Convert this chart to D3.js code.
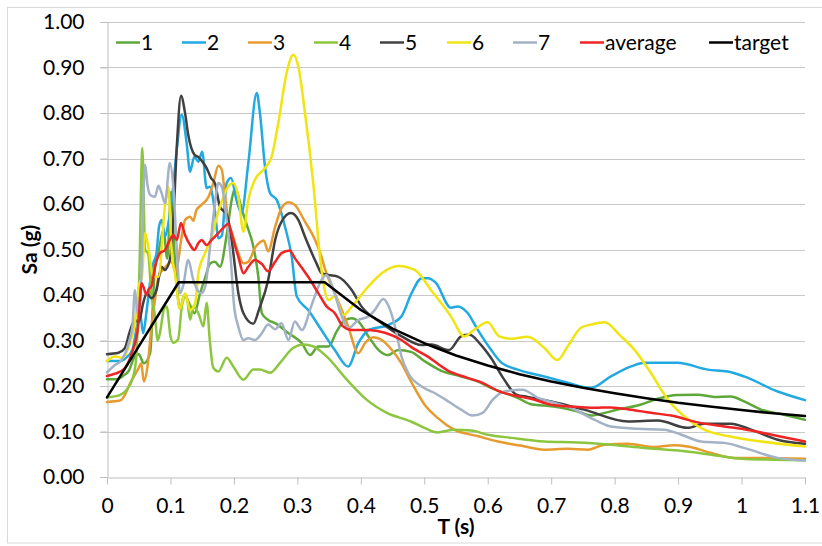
<!DOCTYPE html>
<html>
<head>
<meta charset="utf-8">
<script src="https://cdn.jsdelivr.net/npm/d3@7"></script>
<style>
  html, body { margin: 0; padding: 0; background: #ffffff; }
  svg { display: block; font-family: Lato, "Open Sans", sans-serif; }
</style>
</head>
<body>
<svg id="chart" width="822" height="546"></svg>
<script>
// ---------- data (T in s, Sa in g) ----------
const xTicks = [0, 0.1, 0.2, 0.3, 0.4, 0.5, 0.6, 0.7, 0.8, 0.9, 1.0, 1.1];
const xTickLabels = ["0", "0.1", "0.2", "0.3", "0.4", "0.5", "0.6", "0.7", "0.8", "0.9", "1", "1.1"];
const yTicks = [0, 0.1, 0.2, 0.3, 0.4, 0.5, 0.6, 0.7, 0.8, 0.9, 1.0];
const seriesNames = ["1", "2", "3", "4", "5", "6", "7", "average", "target"];
const seriesColors = ["#5ea83a", "#22a9e1", "#e79b2e", "#8cc63f", "#404040", "#f0e412", "#a3b2c6", "#ee2524", "#000000"];

const s1 = [[0,0.215],[0.015,0.215],[0.025,0.222],[0.035,0.235],[0.042,0.26],[0.05,0.27],[0.058,0.25],[0.068,0.273],[0.075,0.45],[0.082,0.50],[0.089,0.543],[0.095,0.48],[0.101,0.627],[0.106,0.50],[0.11,0.42],[0.115,0.37],[0.122,0.40],[0.13,0.38],[0.138,0.36],[0.146,0.40],[0.155,0.44],[0.163,0.47],[0.17,0.473],[0.178,0.462],[0.189,0.536],[0.1965,0.609],[0.202,0.635],[0.212,0.59],[0.22,0.555],[0.23,0.51],[0.2385,0.44],[0.244,0.36],[0.254,0.345],[0.265,0.338],[0.286,0.316],[0.307,0.294],[0.32,0.268],[0.333,0.287],[0.349,0.287],[0.362,0.32],[0.375,0.345],[0.386,0.349],[0.396,0.342],[0.412,0.309],[0.428,0.279],[0.443,0.268],[0.459,0.279],[0.479,0.275],[0.50,0.255],[0.526,0.234],[0.558,0.221],[0.584,0.21],[0.605,0.196],[0.626,0.185],[0.647,0.174],[0.668,0.16],[0.689,0.157],[0.716,0.152],[0.742,0.144],[0.763,0.135],[0.784,0.141],[0.81,0.15],[0.836,0.157],[0.868,0.172],[0.899,0.18],[0.931,0.181],[0.957,0.176],[0.983,0.177],[1.004,0.166],[1.031,0.148],[1.067,0.137],[1.1,0.126]];

const s2 = [[0,0.255],[0.02,0.255],[0.03,0.262],[0.04,0.28],[0.047,0.33],[0.052,0.36],[0.057,0.316],[0.062,0.36],[0.068,0.43],[0.073,0.47],[0.078,0.492],[0.082,0.55],[0.086,0.565],[0.0915,0.528],[0.097,0.56],[0.103,0.62],[0.11,0.72],[0.1177,0.796],[0.1255,0.734],[0.1308,0.671],[0.1376,0.704],[0.144,0.693],[0.15,0.715],[0.157,0.635],[0.162,0.638],[0.17,0.585],[0.1755,0.525],[0.181,0.53],[0.1886,0.646],[0.1955,0.657],[0.204,0.609],[0.212,0.58],[0.2227,0.69],[0.236,0.844],[0.241,0.80],[0.249,0.682],[0.257,0.624],[0.2675,0.609],[0.2805,0.55],[0.291,0.485],[0.299,0.397],[0.317,0.367],[0.338,0.323],[0.359,0.279],[0.38,0.243],[0.396,0.294],[0.412,0.323],[0.443,0.334],[0.464,0.353],[0.48,0.404],[0.496,0.437],[0.506,0.437],[0.518,0.427],[0.542,0.372],[0.553,0.375],[0.568,0.361],[0.584,0.324],[0.605,0.28],[0.621,0.252],[0.647,0.236],[0.689,0.221],[0.726,0.207],[0.763,0.196],[0.794,0.221],[0.826,0.243],[0.847,0.251],[0.899,0.251],[0.947,0.236],[0.978,0.232],[1.004,0.221],[1.057,0.188],[1.1,0.169]];

const s3 = [[0,0.165],[0.0205,0.168],[0.028,0.18],[0.036,0.205],[0.044,0.225],[0.05,0.24],[0.054,0.25],[0.058,0.21],[0.064,0.245],[0.07,0.33],[0.0757,0.39],[0.081,0.44],[0.091,0.46],[0.102,0.473],[0.108,0.45],[0.1177,0.528],[0.123,0.565],[0.131,0.572],[0.136,0.563],[0.141,0.587],[0.149,0.598],[0.16,0.616],[0.1675,0.646],[0.1755,0.684],[0.181,0.675],[0.185,0.631],[0.191,0.565],[0.199,0.528],[0.207,0.492],[0.215,0.47],[0.2227,0.473],[0.233,0.503],[0.241,0.516],[0.247,0.52],[0.254,0.496],[0.265,0.55],[0.275,0.591],[0.286,0.604],[0.296,0.598],[0.312,0.561],[0.328,0.521],[0.338,0.484],[0.344,0.455],[0.359,0.404],[0.37,0.367],[0.38,0.331],[0.396,0.272],[0.4065,0.294],[0.42,0.307],[0.433,0.301],[0.449,0.279],[0.464,0.25],[0.479,0.21],[0.50,0.16],[0.521,0.13],[0.547,0.104],[0.584,0.09],[0.616,0.078],[0.652,0.069],[0.689,0.06],[0.726,0.062],[0.758,0.06],[0.784,0.071],[0.821,0.073],[0.863,0.066],[0.894,0.07],[0.915,0.067],[0.952,0.053],[0.989,0.042],[1.03,0.042],[1.1,0.04]];

const s4 = [[0,0.175],[0.02,0.18],[0.03,0.19],[0.04,0.215],[0.046,0.26],[0.051,0.45],[0.0557,0.723],[0.06,0.50],[0.065,0.49],[0.07,0.40],[0.075,0.36],[0.08,0.30],[0.0835,0.317],[0.09,0.37],[0.094,0.375],[0.1,0.31],[0.1045,0.295],[0.112,0.302],[0.118,0.375],[0.125,0.40],[0.131,0.346],[0.136,0.375],[0.144,0.36],[0.152,0.331],[0.157,0.383],[0.162,0.30],[0.1675,0.24],[0.1755,0.232],[0.1886,0.262],[0.199,0.243],[0.215,0.214],[0.2306,0.236],[0.241,0.236],[0.257,0.229],[0.2727,0.251],[0.2937,0.284],[0.31,0.291],[0.325,0.287],[0.346,0.265],[0.378,0.214],[0.409,0.17],[0.441,0.141],[0.479,0.122],[0.50,0.108],[0.521,0.098],[0.547,0.104],[0.574,0.102],[0.60,0.093],[0.637,0.086],[0.689,0.078],[0.742,0.076],[0.794,0.071],[0.847,0.064],[0.90,0.058],[0.952,0.049],[1.0,0.04],[1.05,0.038],[1.1,0.037]];

const s5 = [[0,0.27],[0.018,0.273],[0.028,0.283],[0.036,0.32],[0.044,0.345],[0.05,0.34],[0.057,0.382],[0.0625,0.404],[0.07,0.393],[0.078,0.411],[0.086,0.462],[0.091,0.455],[0.099,0.477],[0.1045,0.565],[0.11,0.726],[0.1166,0.838],[0.123,0.80],[0.128,0.752],[0.138,0.708],[0.144,0.703],[0.152,0.69],[0.157,0.679],[0.164,0.657],[0.17,0.646],[0.178,0.594],[0.189,0.576],[0.1965,0.52],[0.207,0.404],[0.215,0.36],[0.2306,0.337],[0.24,0.37],[0.254,0.433],[0.265,0.521],[0.275,0.561],[0.29,0.58],[0.3015,0.565],[0.312,0.528],[0.33,0.47],[0.338,0.448],[0.349,0.444],[0.3645,0.44],[0.3856,0.411],[0.401,0.375],[0.433,0.338],[0.4645,0.309],[0.496,0.29],[0.511,0.291],[0.539,0.279],[0.558,0.309],[0.571,0.313],[0.589,0.291],[0.605,0.262],[0.626,0.214],[0.645,0.181],[0.663,0.176],[0.70,0.166],[0.752,0.148],[0.821,0.122],[0.868,0.124],[0.915,0.108],[0.941,0.117],[0.983,0.117],[1.015,0.104],[1.057,0.082],[1.1,0.073]];

const s6 = [[0,0.255],[0.012,0.265],[0.025,0.262],[0.035,0.29],[0.045,0.35],[0.05,0.42],[0.055,0.44],[0.06,0.536],[0.065,0.506],[0.073,0.44],[0.081,0.44],[0.0915,0.598],[0.0966,0.638],[0.102,0.492],[0.107,0.448],[0.115,0.37],[0.123,0.404],[0.131,0.367],[0.139,0.382],[0.144,0.448],[0.1545,0.492],[0.165,0.528],[0.1755,0.583],[0.191,0.638],[0.199,0.646],[0.207,0.616],[0.215,0.539],[0.2227,0.609],[0.233,0.653],[0.249,0.679],[0.2595,0.704],[0.27,0.778],[0.283,0.888],[0.2937,0.928],[0.3015,0.902],[0.312,0.80],[0.325,0.646],[0.338,0.455],[0.349,0.389],[0.359,0.397],[0.372,0.356],[0.386,0.375],[0.412,0.419],[0.433,0.448],[0.459,0.464],[0.485,0.455],[0.511,0.41],[0.542,0.353],[0.563,0.309],[0.579,0.324],[0.60,0.34],[0.618,0.309],[0.637,0.304],[0.663,0.308],[0.689,0.284],[0.71,0.257],[0.726,0.287],[0.747,0.328],[0.763,0.335],[0.784,0.34],[0.81,0.309],[0.831,0.28],[0.857,0.229],[0.884,0.17],[0.91,0.133],[0.941,0.104],[0.978,0.09],[1.031,0.078],[1.1,0.067]];

const s7 = [[0,0.23],[0.0126,0.246],[0.023,0.257],[0.034,0.294],[0.04,0.33],[0.044,0.411],[0.048,0.36],[0.053,0.40],[0.057,0.60],[0.06,0.686],[0.064,0.64],[0.068,0.62],[0.0757,0.616],[0.081,0.64],[0.086,0.624],[0.0915,0.602],[0.099,0.69],[0.1045,0.638],[0.11,0.50],[0.115,0.404],[0.12,0.42],[0.128,0.477],[0.136,0.433],[0.143,0.41],[0.149,0.404],[0.155,0.42],[0.162,0.50],[0.17,0.60],[0.1755,0.646],[0.181,0.638],[0.186,0.594],[0.195,0.48],[0.2,0.38],[0.207,0.33],[0.215,0.301],[0.2227,0.305],[0.233,0.301],[0.244,0.316],[0.254,0.335],[0.265,0.325],[0.275,0.338],[0.286,0.301],[0.296,0.342],[0.307,0.323],[0.323,0.38],[0.338,0.433],[0.346,0.444],[0.357,0.411],[0.37,0.353],[0.38,0.327],[0.396,0.345],[0.412,0.353],[0.422,0.367],[0.4355,0.391],[0.443,0.378],[0.454,0.33],[0.464,0.265],[0.475,0.228],[0.496,0.199],[0.517,0.184],[0.538,0.166],[0.558,0.148],[0.576,0.135],[0.592,0.141],[0.608,0.17],[0.626,0.188],[0.655,0.192],[0.679,0.174],[0.70,0.165],[0.731,0.152],[0.768,0.126],[0.794,0.111],[0.836,0.106],[0.878,0.104],[0.905,0.093],[0.936,0.078],[0.973,0.075],[1.004,0.064],[1.057,0.042],[1.1,0.036]];

const average = [[0,0.222],[0.0126,0.227],[0.028,0.239],[0.039,0.272],[0.049,0.33],[0.0546,0.426],[0.0625,0.40],[0.065,0.411],[0.07,0.419],[0.0757,0.462],[0.0835,0.492],[0.0915,0.499],[0.099,0.521],[0.1045,0.532],[0.11,0.521],[0.1166,0.558],[0.123,0.532],[0.131,0.51],[0.1376,0.499],[0.144,0.514],[0.149,0.521],[0.157,0.51],[0.165,0.521],[0.1755,0.536],[0.183,0.547],[0.191,0.556],[0.199,0.521],[0.207,0.484],[0.215,0.448],[0.2227,0.462],[0.233,0.477],[0.244,0.468],[0.254,0.452],[0.265,0.473],[0.275,0.492],[0.288,0.498],[0.296,0.481],[0.307,0.46],[0.317,0.44],[0.333,0.404],[0.346,0.375],[0.359,0.36],[0.372,0.331],[0.386,0.323],[0.412,0.323],[0.438,0.317],[0.464,0.301],[0.479,0.286],[0.505,0.265],[0.537,0.234],[0.568,0.218],[0.592,0.207],[0.618,0.188],[0.642,0.179],[0.668,0.172],[0.70,0.159],[0.731,0.155],[0.768,0.152],[0.794,0.153],[0.826,0.148],[0.857,0.141],[0.889,0.135],[0.931,0.12],[0.973,0.111],[1.004,0.105],[1.057,0.09],[1.1,0.078]];

const target = [[0,0.175],[0.113,0.428],[0.343,0.428],[0.4,0.367],[0.45,0.326],[0.5,0.294],[0.55,0.267],[0.6,0.245],[0.65,0.226],[0.7,0.21],[0.75,0.196],[0.8,0.184],[0.85,0.173],[0.9,0.163],[0.95,0.155],[1.0,0.147],[1.05,0.14],[1.1,0.134]];

const allSeries = [s1, s2, s3, s4, s5, s6, s7, average, target];

// ---------- drawing ----------
const svg = d3.select("#chart");
const W = 822, H = 546;
const x = d3.scaleLinear().domain([0, 1.1]).range([107, 805]);
const y = d3.scaleLinear().domain([0, 1]).range([477, 22]);
const FS = 21;
const FONT = 'Lato, "Open Sans", sans-serif';

svg.append("rect").attr("width", W).attr("height", H).attr("fill", "#ffffff");
// chart border
svg.append("rect").attr("x", 7.5).attr("y", 7.5).attr("width", W).attr("height", 535.5)
  .attr("fill", "none").attr("stroke", "#d9d9d9").attr("stroke-width", 1);

// horizontal gridlines (extend left as tick marks)
svg.append("g").selectAll("line").data(yTicks.filter(d => d > 0)).join("line")
  .attr("x1", 100).attr("x2", x(1.1))
  .attr("y1", d => Math.round(y(d)) + 0.5).attr("y2", d => Math.round(y(d)) + 0.5)
  .attr("stroke", "#c9c9c9").attr("stroke-width", 1);

// y axis
const yAxis = d3.axisLeft(y).tickValues(yTicks).tickSize(7).tickSizeOuter(0).tickPadding(16)
  .tickFormat(d3.format(".2f"));
const gy = svg.append("g").attr("transform", "translate(107.5,0)").call(yAxis);
gy.selectAll("line").attr("stroke", "#bfbfbf");
gy.select(".domain").attr("stroke", "#bfbfbf");
gy.selectAll("text").attr("font-size", FS).attr("fill", "#000").style("font-family", FONT);

// x axis
const xAxis = d3.axisBottom(x).tickValues(xTicks).tickSize(7).tickSizeOuter(0).tickPadding(14)
  .tickFormat((d, i) => xTickLabels[i]);
const gx = svg.append("g").attr("transform", "translate(0,477.5)").call(xAxis);
gx.selectAll("line").attr("stroke", "#bfbfbf");
gx.select(".domain").attr("stroke", "#bfbfbf");
gx.selectAll("text").attr("font-size", FS).attr("fill", "#000").style("font-family", FONT);
svg.append("line").attr("x1", 100).attr("x2", 107).attr("y1", 477.5).attr("y2", 477.5).attr("stroke", "#bfbfbf");

// series lines
const lineSmooth = d3.line().x(d => x(d[0])).y(d => y(d[1])).curve(d3.curveMonotoneX);
const lineStraight = d3.line().x(d => x(d[0])).y(d => y(d[1]));
svg.append("g").selectAll("path").data(allSeries).join("path")
  .attr("d", (d, i) => (seriesNames[i] === "target" ? lineStraight : lineSmooth)(d))
  .attr("fill", "none")
  .attr("stroke", (d, i) => seriesColors[i])
  .attr("stroke-width", 2.5)
  .attr("stroke-linejoin", "round")
  .attr("stroke-linecap", "round");

// legend (item start positions follow the original layout)
const legendX = [116, 182, 248, 314, 380, 447, 513, 580, 709];
const leg = svg.append("g").attr("transform", "translate(0,42.5)");
seriesNames.forEach((name, i) => {
  const g = leg.append("g").attr("transform", `translate(${legendX[i]},0)`);
  g.append("line").attr("x1", 0).attr("x2", 24).attr("y1", 0).attr("y2", 0)
    .attr("stroke", seriesColors[i]).attr("stroke-width", 2.5);
  g.append("text").attr("x", 25).attr("y", 0).attr("dy", "0.35em")
    .attr("font-size", FS).attr("fill", "#000").text(name);
});

// axis titles
svg.append("text").attr("x", x(0.55)).attr("y", 534).attr("text-anchor", "middle")
  .attr("font-size", FS).attr("font-weight", "bold").attr("fill", "#000").text("T (s)");
svg.append("text").attr("transform", `translate(37,${y(0.5)}) rotate(-90)`)
  .attr("text-anchor", "middle").attr("font-size", FS).attr("font-weight", "bold")
  .attr("fill", "#000").text("Sa (g)");
</script>
</body>
</html>
